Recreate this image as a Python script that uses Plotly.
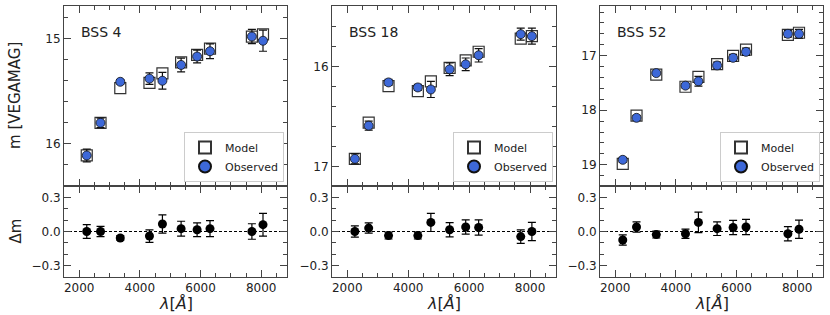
import plotly.graph_objects as go

# ---------------- data ----------------
wave = [2250, 2704, 3355, 4317, 4744, 5360, 5887, 6312, 7693, 8059]

names = ["BSS 4", "BSS 18", "BSS 52"]

obs_4 = [16.11, 15.80, 15.41, 15.38, 15.40, 15.25, 15.17, 15.12, 14.98, 15.02]
mod_4 = [16.11, 15.80, 15.47, 15.42, 15.33, 15.225, 15.155, 15.095, 14.98, 14.96]
res_4 = [0.00, 0.00, -0.057, -0.04, 0.066, 0.025, 0.015, 0.025, 0.00, 0.06]
err_4 = [0.06, 0.045, 0.02, 0.055, 0.08, 0.065, 0.06, 0.07, 0.068, 0.10]

obs_18 = [16.92, 16.59, 16.16, 16.21, 16.23, 16.03, 15.98, 15.89, 15.68, 15.70]
mod_18 = [16.92, 16.56, 16.196, 16.246, 16.15, 16.015, 15.94, 15.855, 15.725, 15.70]
res_18 = [0.00, 0.03, -0.036, -0.036, 0.08, 0.015, 0.04, 0.035, -0.045, 0.00]
err_18 = [0.05, 0.045, 0.03, 0.03, 0.08, 0.063, 0.063, 0.067, 0.06, 0.08]

obs_52 = [18.91, 18.14, 17.32, 17.55, 17.47, 17.18, 17.04, 16.93, 16.60, 16.60]
mod_52 = [18.985, 18.10, 17.347, 17.57, 17.39, 17.155, 17.005, 16.89, 16.62, 16.58]
res_52 = [-0.075, 0.04, -0.027, -0.02, 0.08, 0.025, 0.035, 0.04, -0.02, 0.02]
err_52 = [0.045, 0.045, 0.03, 0.04, 0.09, 0.06, 0.063, 0.067, 0.063, 0.08]

top_ranges = [[16.40, 14.69], [17.19, 15.40], [19.39, 16.09]]
top_dticks = [1, 1, 1]
x_range = [1500, 8850]
res_range = [-0.4, 0.4]
res_ticks = [-0.3, 0.0, 0.3]
res_ticklabels = ["\u22120.3", "0.0", "0.3"]

obs_all = [obs_4, obs_18, obs_52]
mod_all = [mod_4, mod_18, mod_52]
res_all = [res_4, res_18, res_52]
err_all = [err_4, err_18, err_52]

# ---------------- layout geometry (pixels) ----------------
W, H = 830, 315
panel_x = [(64, 287), (332, 556), (600, 823)]
top_y = (6, 186)
bot_y = (186, 277)

def fx(p):
    return p / W

def fy(p):
    return 1 - p / H

FONT = "DejaVu Sans"
AX = "#444444"
BLUE = "#3d68d8"

fig = go.Figure()
layout = dict(
    width=W, height=H,
    margin=dict(l=0, r=0, t=0, b=0),
    paper_bgcolor="white", plot_bgcolor="white",
    font=dict(family=FONT, size=12, color="#222222"),
    shapes=[], annotations=[],
)

for i in range(3):
    ti = 2 * i + 1      # top axis index
    bi = 2 * i + 2      # bottom axis index
    tx = "x" if ti == 1 else f"x{ti}"
    ty = "y" if ti == 1 else f"y{ti}"
    bx = f"x{bi}"
    by = f"y{bi}"
    leg = "legend" if i == 0 else f"legend{i + 1}"

    # model squares
    fig.add_trace(go.Scatter(
        x=wave, y=mod_all[i], mode="markers", name="Model",
        xaxis=tx, yaxis=ty, legend=leg,
        marker=dict(symbol="square", size=11, color="white",
                    line=dict(color="#333333", width=1.2)),
    ))
    # observed
    fig.add_trace(go.Scatter(
        x=wave, y=obs_all[i], mode="markers", name="Observed",
        xaxis=tx, yaxis=ty, legend=leg,
        marker=dict(symbol="circle", size=9, color=BLUE,
                    line=dict(color="#111111", width=0.8)),
        error_y=dict(type="data", array=err_all[i], color="#111111",
                     thickness=1.2, width=4),
    ))
    # residuals
    fig.add_trace(go.Scatter(
        x=wave, y=res_all[i], mode="markers", showlegend=False,
        xaxis=bx, yaxis=by,
        marker=dict(symbol="circle", size=9, color="black"),
        error_y=dict(type="data", array=err_all[i], color="black",
                     thickness=1.2, width=4),
    ))

    xdom = [fx(panel_x[i][0]), fx(panel_x[i][1])]
    common_x = dict(
        domain=xdom, range=x_range, dtick=2000, tick0=0,
        ticks="inside", ticklen=7, tickwidth=1, tickcolor=AX,
        minor=dict(ticks="inside", ticklen=4, dtick=500, tickcolor=AX),
        showline=True, linecolor=AX, linewidth=1, mirror="allticks",
        showgrid=False, zeroline=False,
        tickfont=dict(family=FONT, size=12, color="#222222"),
    )
    layout[f"xaxis{'' if ti == 1 else ti}"] = dict(common_x, anchor=ty, showticklabels=False)
    layout[f"xaxis{bi}"] = dict(common_x, anchor=by, showticklabels=True)

    layout[f"yaxis{'' if ti == 1 else ti}"] = dict(
        domain=[fy(top_y[1]), fy(top_y[0])], anchor=tx,
        range=top_ranges[i], dtick=top_dticks[i], tick0=0,
        ticks="inside", ticklen=7, tickwidth=1, tickcolor=AX,
        minor=dict(ticks="inside", ticklen=4, dtick=0.2, tickcolor=AX),
        showline=True, linecolor=AX, linewidth=1, mirror="allticks",
        showgrid=False, zeroline=False,
        tickfont=dict(family=FONT, size=12, color="#222222"),
    )
    layout[f"yaxis{bi}"] = dict(
        domain=[fy(bot_y[1]), fy(bot_y[0])], anchor=bx,
        range=res_range, tickvals=res_ticks, ticktext=res_ticklabels,
        ticks="inside", ticklen=7, tickwidth=1, tickcolor=AX,
        minor=dict(ticks="inside", ticklen=4, dtick=0.1, tickcolor=AX),
        showline=True, linecolor=AX, linewidth=1, mirror="allticks",
        showgrid=False, zeroline=False,
        tickfont=dict(family=FONT, size=12, color="#222222"),
    )

    # zero dashed line
    layout["shapes"].append(dict(
        type="line", xref=f"{bx} domain", yref=by, x0=0, x1=1, y0=0, y1=0,
        line=dict(color="black", width=1, dash="3px,2px"), layer="below",
    ))

    # panel title
    layout["annotations"].append(dict(
        text=names[i], xref="paper", yref="paper",
        x=fx(panel_x[i][0] + 15), y=fy(32), xanchor="left", yanchor="middle",
        showarrow=False, font=dict(family=FONT, size=14, color="#222222"),
    ))
    # x title
    layout["annotations"].append(dict(
        text="<i>\u03bb</i>[<i>\u00c5</i>]", xref="paper", yref="paper",
        x=fx((panel_x[i][0] + panel_x[i][1]) / 2), y=fy(303),
        xanchor="center", yanchor="middle", showarrow=False,
        font=dict(family=FONT, size=16, color="#222222"),
    ))

    # legend
    layout[leg] = dict(
        x=fx(panel_x[i][1] - 3), y=fy(182), xanchor="right", yanchor="bottom",
        bgcolor="white", bordercolor="#cccccc", borderwidth=1,
        font=dict(family=FONT, size=11, color="#222222"),
        tracegroupgap=0, itemsizing="constant",
    )

# y titles
layout["annotations"].append(dict(
    text="m [VEGAMAG]", xref="paper", yref="paper",
    x=fx(15), y=fy((top_y[0] + top_y[1]) / 2), textangle=-90,
    xanchor="center", yanchor="middle", showarrow=False,
    font=dict(family=FONT, size=15, color="#222222"),
))
layout["annotations"].append(dict(
    text="\u0394m", xref="paper", yref="paper",
    x=fx(15), y=fy((bot_y[0] + bot_y[1]) / 2), textangle=-90,
    xanchor="center", yanchor="middle", showarrow=False,
    font=dict(family=FONT, size=15, color="#222222"),
))

fig.update_layout(**layout)
fig.write_html(
    "out.html",
    config={"displayModeBar": False},
    post_script="document.body.style.margin='0';document.body.style.padding='0';"
                "document.body.style.overflow='hidden';",
)
